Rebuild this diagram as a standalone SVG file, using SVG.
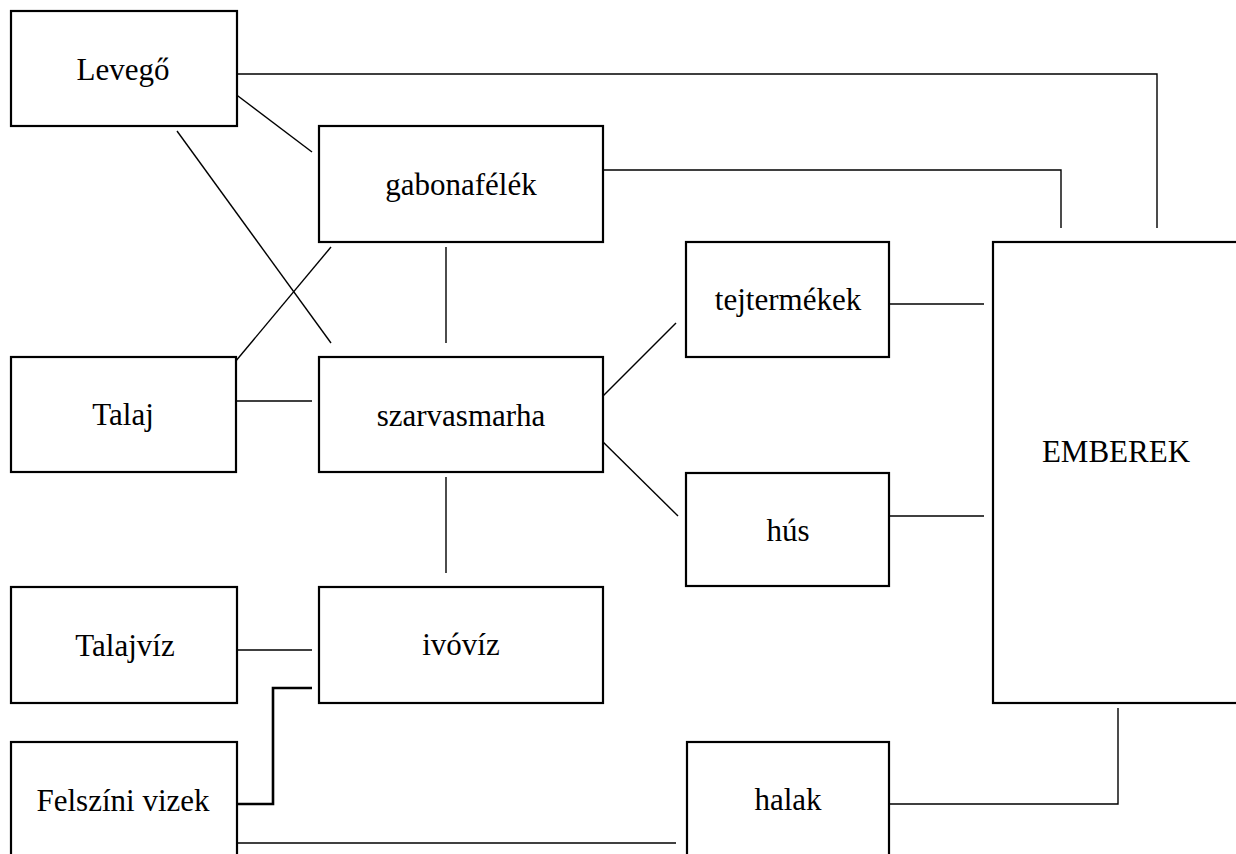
<svg xmlns="http://www.w3.org/2000/svg" width="1236" height="854" viewBox="0 0 1236 854">
<style>
.box{fill:#fff;stroke:#000;stroke-width:2.2}
.lbl{font-family:"Liberation Serif","Times New Roman",serif;font-size:31px;fill:#000;text-anchor:middle}
.c{fill:none;stroke:#000;stroke-width:1.4}
.thick{fill:none;stroke:#000;stroke-width:2.6}
</style>
<rect width="1236" height="854" fill="#fff"/>
<g id="connectors">
<polyline class="c" points="235,74 1157,74 1157,228"/>
<polyline class="c" points="603,170 1061,170 1061,228"/>
<line class="c" x1="234" y1="93" x2="312" y2="152"/>
<line class="c" x1="177" y1="131" x2="331" y2="343"/>
<line class="c" x1="331" y1="247" x2="235" y2="362"/>
<line class="c" x1="446" y1="247" x2="446" y2="343"/>
<line class="c" x1="235" y1="401" x2="312" y2="401"/>
<line class="c" x1="446" y1="477" x2="446" y2="573"/>
<line class="c" x1="599" y1="400" x2="676" y2="323"/>
<line class="c" x1="599" y1="438" x2="678" y2="516"/>
<line class="c" x1="889" y1="304" x2="984" y2="304"/>
<line class="c" x1="889" y1="516" x2="984" y2="516"/>
<line class="c" x1="235" y1="650" x2="312" y2="650"/>
<polyline class="thick" points="235,804 273,804 273,688 312,688"/>
<line class="c" x1="235" y1="843" x2="676" y2="843"/>
<polyline class="c" points="889,804 1118,804 1118,708"/>
</g>
<g id="levego"><rect class="box" x="11" y="11" width="226" height="115"/><text class="lbl" x="123" y="80">Levegő</text></g>
<g id="gabonafelek"><rect class="box" x="319" y="126" width="284" height="116"/><text class="lbl" x="461" y="195">gabonafélék</text></g>
<g id="talaj"><rect class="box" x="11" y="357" width="225" height="115"/><text class="lbl" x="123" y="425">Talaj</text></g>
<g id="szarvasmarha"><rect class="box" x="319" y="357" width="284" height="115"/><text class="lbl" x="461" y="426">szarvasmarha</text></g>
<g id="tejtermekek"><rect class="box" x="686" y="242" width="203" height="115"/><text class="lbl" x="788" y="310">tejtermékek</text></g>
<g id="hus"><rect class="box" x="686" y="473" width="203" height="113"/><text class="lbl" x="788" y="541">hús</text></g>
<g id="emberek"><rect class="box" x="993" y="242" width="260" height="461"/><text class="lbl" x="1116" y="462">EMBEREK</text></g>
<g id="talajviz"><rect class="box" x="11" y="587" width="226" height="116"/><text class="lbl" x="125" y="656">Talajvíz</text></g>
<g id="ivoviz"><rect class="box" x="319" y="587" width="284" height="116"/><text class="lbl" x="461" y="655">ivóvíz</text></g>
<g id="felszini"><rect class="box" x="11" y="742" width="226" height="130"/><text class="lbl" x="123" y="811">Felszíni vizek</text></g>
<g id="halak"><rect class="box" x="687" y="742" width="202" height="130"/><text class="lbl" x="788" y="810">halak</text></g>
</svg>
